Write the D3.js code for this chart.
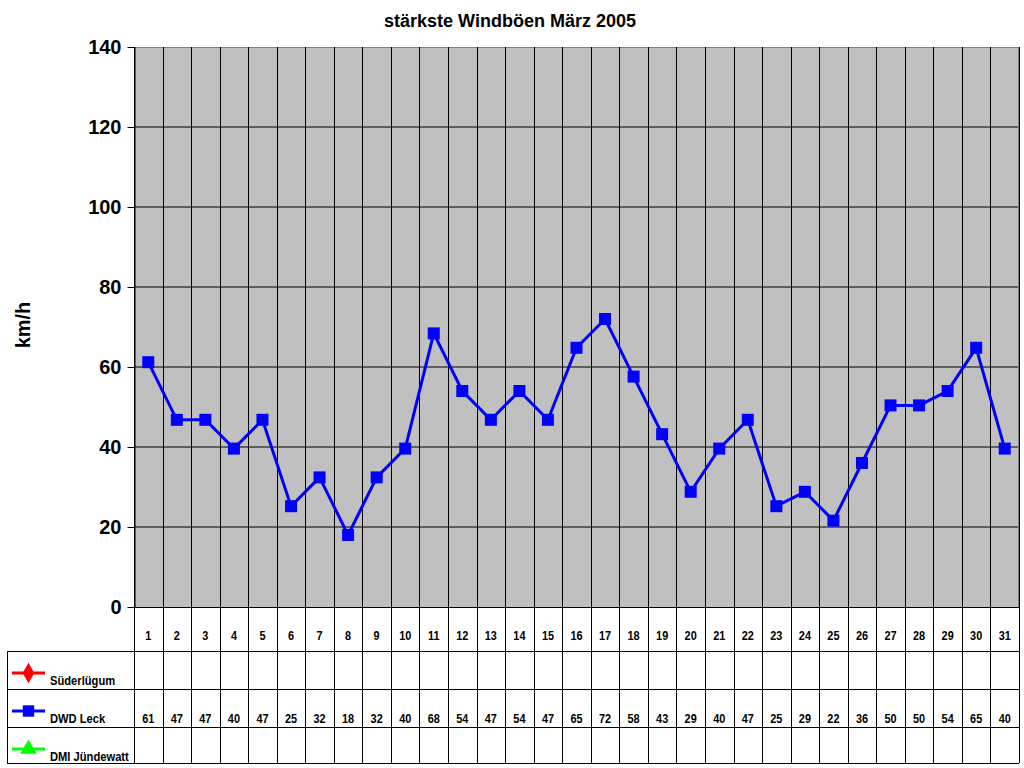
<!DOCTYPE html>
<html>
<head>
<meta charset="utf-8">
<script src="https://cdn.jsdelivr.net/npm/d3@7"></script>
<style>
  body { margin: 0; background: #fff; }
  svg { display: block; font-family: Arial, "Liberation Sans", sans-serif; }
  .tab { font-size: 13px; font-weight: bold; }
</style>
</head>
<body>
<svg id="chart" width="1024" height="768"></svg>
<script>
// Tage im März
const tage = d3.range(1, 32).map(String);
// DWD Leck (km/h)
const dwdLeck = [61.2, 46.8, 46.8, 39.6, 46.8, 25.2, 32.4, 18, 32.4, 39.6, 68.4, 54, 46.8, 54, 46.8,
  64.8, 72, 57.6, 43.2, 28.8, 39.6, 46.8, 25.2, 28.8, 21.6, 36, 50.4, 50.4, 54, 64.8, 39.6];
const yTicks = [0, 20, 40, 60, 80, 100, 120, 140];
const reihen = [
  { name: "Süderlügum", farbe: "#ff0000", symbol: d3.symbolDiamond, werte: [] },
  { name: "DWD Leck", farbe: "#0000ff", symbol: d3.symbolSquare, werte: dwdLeck },
  { name: "DMI Jündewatt", farbe: "#00ff00", symbol: d3.symbolTriangle, werte: [] }
];

const svg = d3.select("#chart");
const links = 134, rechts = 1019, oben = 47, unten = 607;
const tabLinks = 7;
const zeilen = [607, 651, 689, 727, 763];
const schmal = 0.84; // Tabellenschrift etwas schmaler

const x = d3.scaleBand().domain(tage).range([links, rechts]);
const y = d3.scaleLinear().domain([0, 140]).range([unten, oben]);

// Titel
svg.append("text")
  .attr("x", 510).attr("y", 27)
  .attr("text-anchor", "middle")
  .attr("font-size", "18px").attr("font-weight", "bold")
  .text("stärkste Windböen März 2005");

// Plotfläche
svg.append("rect")
  .attr("x", links).attr("y", oben)
  .attr("width", rechts - links).attr("height", unten - oben)
  .attr("fill", "#c0c0c0");

// horizontale Gitterlinien
svg.append("g").selectAll("line")
  .data(yTicks.filter(d => d > 0 && d < 140))
  .enter().append("line")
  .attr("x1", links).attr("x2", rechts)
  .attr("y1", d => y(d)).attr("y2", d => y(d))
  .attr("stroke", "#000").attr("stroke-width", 1);

// Rahmen oben / rechts grau
svg.append("line").attr("x1", links).attr("x2", rechts).attr("y1", oben + 0.5).attr("y2", oben + 0.5)
  .attr("stroke", "#808080");
svg.append("line").attr("x1", rechts - 0.5).attr("x2", rechts - 0.5).attr("y1", oben).attr("y2", unten)
  .attr("stroke", "#808080");

// y-Achse
const yAchse = svg.append("g")
  .attr("transform", "translate(" + (links + 0.5) + ",0)")
  .call(d3.axisLeft(y).tickValues(yTicks).tickSize(7).tickPadding(6).tickSizeOuter(0));
yAchse.select(".domain").attr("stroke", "#000");
yAchse.selectAll("line").attr("stroke", "#000");
yAchse.selectAll("text")
  .attr("font-size", "20px").attr("font-weight", "bold")
  .attr("font-family", "Arial, 'Liberation Sans', sans-serif")
  .attr("fill", "#000");

svg.append("text")
  .attr("transform", "translate(30,325) rotate(-90)")
  .attr("text-anchor", "middle")
  .attr("font-size", "20px").attr("font-weight", "bold")
  .text("km/h");

// vertikale Linien durch Plot und Tabelle
const grenzen = tage.map(d => x(d)).concat([rechts]);
svg.append("g").selectAll("line")
  .data(grenzen)
  .enter().append("line")
  .attr("x1", d => Math.round(d) + 0.5).attr("x2", d => Math.round(d) + 0.5)
  .attr("y1", oben)
  .attr("y2", zeilen[4])
  .attr("stroke", "#000");

// Tabellen-Linien
svg.append("line").attr("x1", links).attr("x2", rechts).attr("y1", unten + 0.5).attr("y2", unten + 0.5)
  .attr("stroke", "#000");
svg.append("g").selectAll("line")
  .data(zeilen.slice(1))
  .enter().append("line")
  .attr("x1", tabLinks).attr("x2", rechts)
  .attr("y1", d => d + 0.5).attr("y2", d => d + 0.5)
  .attr("stroke", "#000");
svg.append("line").attr("x1", tabLinks + 0.5).attr("x2", tabLinks + 0.5)
  .attr("y1", zeilen[1]).attr("y2", zeilen[4] + 0.5).attr("stroke", "#000");

// Kategorien
svg.append("g").selectAll("text")
  .data(tage)
  .enter().append("text")
  .attr("class", "tab")
  .attr("transform", d => "translate(" + (x(d) + x.bandwidth() / 2) + ",640) scale(" + schmal + ",1)")
  .attr("text-anchor", "middle")
  .text(d => d);

// Legende + Werte
reihen.forEach((r, i) => {
  const y0 = zeilen[i + 1];
  const lg = svg.append("g");
  lg.append("line")
    .attr("x1", 12).attr("x2", 45)
    .attr("y1", y0 + 22).attr("y2", y0 + 22)
    .attr("stroke", r.farbe).attr("stroke-width", 3);
  lg.append("path")
    .attr("d", d3.symbol().type(r.symbol).size(r.symbol === d3.symbolSquare ? 130 : 120)())
    .attr("transform", "translate(28.5," + (y0 + 22) + ")")
    .attr("fill", r.farbe);
  lg.append("text")
    .attr("class", "tab")
    .attr("transform", "translate(50," + (y0 + 34) + ") scale(0.86,1)")
    .text(r.name);

  svg.append("g").selectAll("text")
    .data(r.werte)
    .enter().append("text")
    .attr("class", "tab")
    .attr("transform", (d, j) => "translate(" + (x(tage[j]) + x.bandwidth() / 2) + "," + (y0 + 34) + ") scale(" + schmal + ",1)")
    .attr("text-anchor", "middle")
    .text(d => Math.round(d));
});

// Linie DWD Leck
const linie = d3.line()
  .x((d, i) => x(tage[i]) + x.bandwidth() / 2)
  .y(d => y(d));
svg.append("path")
  .datum(dwdLeck)
  .attr("d", linie)
  .attr("fill", "none")
  .attr("stroke", "#0000ff")
  .attr("stroke-width", 3);

svg.append("g").selectAll("rect")
  .data(dwdLeck)
  .enter().append("rect")
  .attr("x", (d, i) => x(tage[i]) + x.bandwidth() / 2 - 6)
  .attr("y", d => y(d) - 6)
  .attr("width", 12).attr("height", 12)
  .attr("fill", "#0000ff");
</script>
</body>
</html>
